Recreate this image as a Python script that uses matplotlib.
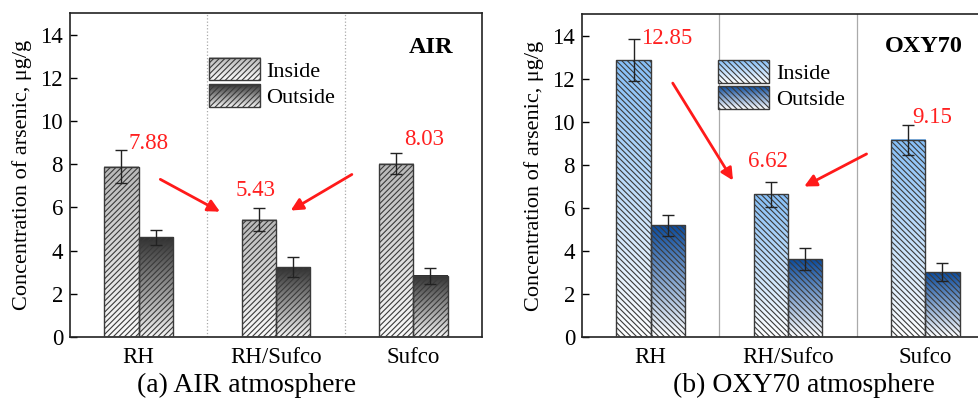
import numpy as np
import matplotlib
matplotlib.use("Agg")
import matplotlib.pyplot as plt
from matplotlib.colors import LinearSegmentedColormap
from matplotlib.patches import Rectangle
from matplotlib.legend_handler import HandlerBase
from matplotlib.image import BboxImage
from matplotlib.transforms import Bbox, TransformedBbox

plt.rcParams['font.family'] = ['Liberation Serif', 'DejaVu Serif']
plt.rcParams['hatch.linewidth'] = 0.8
plt.rcParams['hatch.color'] = '#222222'

# -----------------------------
# Data: arsenic concentration (ug/g)
categories = ["RH", "RH/Sufco", "Sufco"]

air_inside = [7.88, 5.43, 8.03]
air_inside_err = [0.77, 0.52, 0.48]
air_outside = [4.61, 3.23, 2.83]
air_outside_err = [0.35, 0.47, 0.37]

oxy_inside = [12.85, 6.62, 9.15]
oxy_inside_err = [0.97, 0.56, 0.68]
oxy_outside = [5.18, 3.61, 3.01]
oxy_outside_err = [0.49, 0.52, 0.42]

# gradient colormaps (white at bottom -> colour at top)
cm_air_in = LinearSegmentedColormap.from_list("ai", ["#fafafa", "#b8b8b8"])
cm_air_out = LinearSegmentedColormap.from_list("ao", ["#f4f4f4", "#303030"])
cm_oxy_in = LinearSegmentedColormap.from_list("oi", ["#ffffff", "#86bff7"])
cm_oxy_out = LinearSegmentedColormap.from_list("oo", ["#ffffff", "#0a4a9c"])

grad = np.linspace(0, 1, 256).reshape(-1, 1)

HATCH_A = '//////'
HATCH_B = '\\\\\\\\\\\\'


def gradient_bars(ax, x, heights, errs, width, cmap, hatch):
    bars = ax.bar(x, heights, width, facecolor='none', edgecolor='#3a3a3a',
                  linewidth=1.0, hatch=hatch, zorder=3)
    for b in bars:
        x0, y0 = b.get_x(), b.get_y()
        w, h = b.get_width(), b.get_height()
        ax.imshow(grad, cmap=cmap, aspect='auto', origin='lower',
                  extent=[x0, x0 + w, y0, y0 + h], zorder=2,
                  interpolation='bicubic')
    ax.errorbar(x, heights, yerr=errs, fmt='none', ecolor='#222222',
                elinewidth=1.0, capsize=4, capthick=1.0, zorder=4)
    return bars


class GradientHandler(HandlerBase):
    def __init__(self, cmap, hatch):
        super().__init__()
        self.cmap = cmap
        self.hatch = hatch

    def create_artists(self, legend, orig_handle, xdescent, ydescent,
                       width, height, fontsize, trans):
        bb = TransformedBbox(Bbox.from_bounds(-xdescent, -ydescent, width, height), trans)
        img = BboxImage(bb, cmap=self.cmap, interpolation='bicubic', origin='lower')
        img.set_data(grad)
        rect = Rectangle((-xdescent, -ydescent), width, height, facecolor='none',
                         edgecolor='#3a3a3a', linewidth=1.0, hatch=self.hatch,
                         transform=trans)
        return [img, rect]


def setup_axes(ax, sep_style, sep_color):
    ax.set_xlim(-0.5, 2.5)
    ax.set_ylim(0, 15)
    ax.set_yticks(np.arange(0, 15, 2))
    ax.set_xticks(range(len(categories)))
    ax.set_xticklabels(categories)
    ax.tick_params(axis='y', direction='in', length=5, labelsize=16.5, width=1, pad=5)
    ax.tick_params(axis='x', length=0, labelsize=16.5, pad=7)
    ax.set_ylabel("Concentration of arsenic, μg/g", fontsize=16, labelpad=6)
    for s in ax.spines.values():
        s.set_linewidth(1.2)
        s.set_color('#222222')
    for xs in [0.5, 1.5]:
        ax.axvline(xs, color=sep_color, linestyle=sep_style, lw=0.9, zorder=1)


def add_legend(ax, h1, h2, cm1, cm2, hatch, anchor):
    ax.legend([h1, h2], ["Inside", "Outside"], loc='upper left',
              bbox_to_anchor=anchor, frameon=False, fontsize=16,
              borderpad=0, borderaxespad=0,
              handlelength=2.3, handleheight=1.2, handletextpad=0.3,
              labelspacing=0.1,
              handler_map={h1: GradientHandler(cm1, hatch),
                           h2: GradientHandler(cm2, hatch)})


fig = plt.figure(figsize=(9.79, 4.01), dpi=100)
ax1 = fig.add_axes([0.0715, 0.1596, 0.4208, 0.808])
ax2 = fig.add_axes([0.5945, 0.1596, 0.4208, 0.8055])

x = np.arange(len(categories))
w = 0.25
red = '#ff2020'
arrow = dict(arrowstyle='-|>', color='#ff1a1a', lw=2, mutation_scale=18)

# ---- (a) AIR
setup_axes(ax1, ':', '#aaaaaa')
b1 = gradient_bars(ax1, x - w / 2, air_inside, air_inside_err, w, cm_air_in, HATCH_A)
b2 = gradient_bars(ax1, x + w / 2, air_outside, air_outside_err, w, cm_air_out, HATCH_A)
add_legend(ax1, b1, b2, cm_air_in, cm_air_out, HATCH_A, (0.337, 0.862))
ax1.text(2.13, 13.4, "AIR", fontsize=17.5, fontweight='bold', ha='center', va='center')

air_lbl_pos = [(0.07, 1.06), (-0.15, 1.34), (0.08, 1.12)]
for i, (dx, dy) in enumerate(air_lbl_pos):
    ax1.text(x[i] + dx, air_inside[i] + dy, f"{air_inside[i]:.2f}",
             color=red, fontsize=16.5, ha='center', va='center')

ax1.annotate("", xy=(0.61, 5.74), xytext=(0.14, 7.36), arrowprops=arrow)
ax1.annotate("", xy=(1.09, 5.79), xytext=(1.57, 7.59), arrowprops=arrow)

# ---- (b) OXY70
setup_axes(ax2, '-', '#aaaaaa')
c1 = gradient_bars(ax2, x - w / 2, oxy_inside, oxy_inside_err, w, cm_oxy_in, HATCH_B)
c2 = gradient_bars(ax2, x + w / 2, oxy_outside, oxy_outside_err, w, cm_oxy_out, HATCH_B)
add_legend(ax2, c1, c2, cm_oxy_in, cm_oxy_out, HATCH_B, (0.33, 0.858))
ax2.text(1.99, 13.5, "OXY70", fontsize=17.5, fontweight='bold', ha='center', va='center')

oxy_lbl_pos = [(0.12, 1.01), (-0.145, 1.51), (0.05, 1.04)]
for i, (dx, dy) in enumerate(oxy_lbl_pos):
    ax2.text(x[i] + dx, oxy_inside[i] + dy, f"{oxy_inside[i]:.2f}",
             color=red, fontsize=16.5, ha='center', va='center')

ax2.annotate("", xy=(0.61, 7.16), xytext=(0.15, 11.9), arrowprops=arrow)
ax2.annotate("", xy=(1.10, 6.93), xytext=(1.59, 8.56), arrowprops=arrow)

fig.text(0.252, 0.04, "(a) AIR atmosphere", fontsize=20, ha='center', va='center')
fig.text(0.821, 0.04, "(b) OXY70 atmosphere", fontsize=20, ha='center', va='center')

fig.savefig("out.png", dpi=100)
